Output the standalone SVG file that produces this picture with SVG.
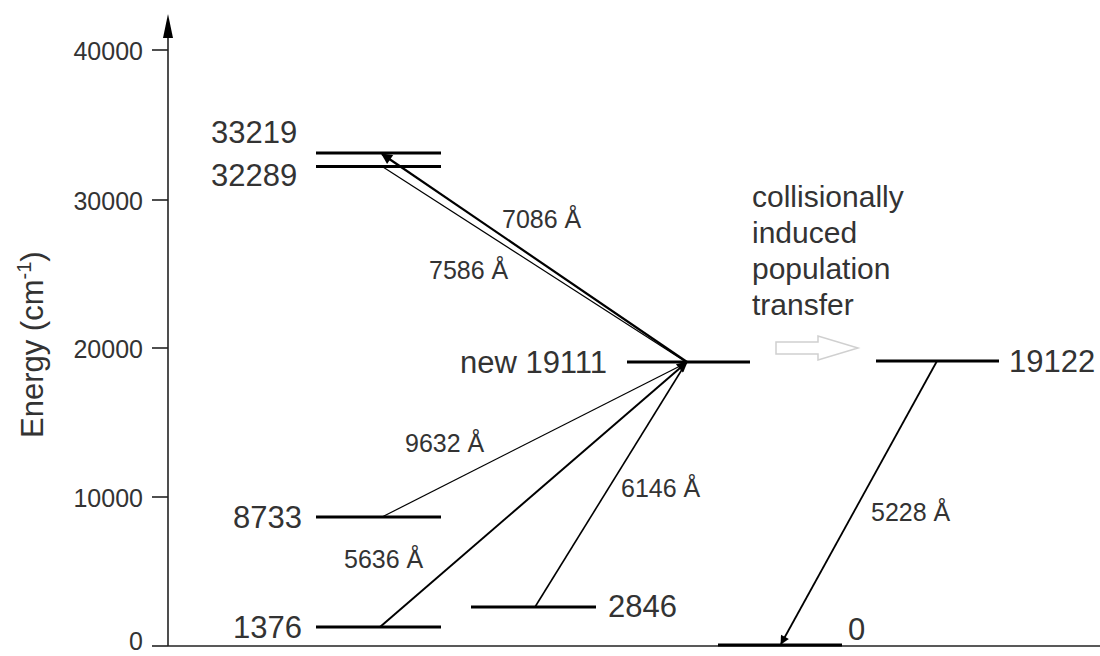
<svg xmlns="http://www.w3.org/2000/svg" width="1100" height="656" viewBox="0 0 1100 656">
<defs>
<style>
text{font-family:"Liberation Sans",Arial,sans-serif;fill:#333}
.tick{font-size:25px;text-anchor:end}
.lvl{font-size:31px}
.wl{font-size:25px}
.note{font-size:30px}
.level{stroke:#000;stroke-width:3.2}
.ax{stroke:#222;stroke-width:1.6;fill:none}
.tr{stroke:#000;fill:none}
</style>
<marker id="ah" viewBox="0 0 10 10" refX="9" refY="5" markerWidth="7" markerHeight="5" markerUnits="strokeWidth" orient="auto">
<path d="M0,0 L10,5 L0,10 z" fill="#000"/>
</marker>
<marker id="ah2" viewBox="0 0 10 10" refX="9" refY="5" markerWidth="8.5" markerHeight="5.5" markerUnits="strokeWidth" orient="auto">
<path d="M0,0 L10,5 L0,10 z" fill="#000"/>
</marker>
</defs>
<rect width="1100" height="656" fill="#fff"/>
<g id="axis">
<line class="ax" x1="168" y1="646" x2="168" y2="36"/>
<path d="M168,14 L163,38 L173,38 z" fill="#000"/>
<line class="ax" x1="168" y1="646" x2="1100" y2="646"/>
<line class="ax" x1="152" y1="50" x2="168" y2="50"/>
<line class="ax" x1="152" y1="200" x2="168" y2="200"/>
<line class="ax" x1="152" y1="348" x2="168" y2="348"/>
<line class="ax" x1="152" y1="497" x2="168" y2="497"/>
<line class="ax" x1="152" y1="646" x2="168" y2="646"/>
<text class="tick" x="143" y="60">40000</text>
<text class="tick" x="143" y="210">30000</text>
<text class="tick" x="143" y="358">20000</text>
<text class="tick" x="143" y="507">10000</text>
<text class="tick" x="143" y="650">0</text>
<text font-size="31" transform="translate(43,438) rotate(-90)">Energy (cm<tspan font-size="20" dy="-12">-1</tspan><tspan dy="12">)</tspan></text>
</g>
<g id="level-33219">
<line class="level" x1="316" y1="153" x2="441" y2="153"/>
<text class="lvl" x="211" y="143">33219</text>
</g>
<g id="level-32289">
<line class="level" x1="316" y1="166.5" x2="441" y2="166.5"/>
<text class="lvl" x="211" y="186">32289</text>
</g>
<g id="level-19111">
<line class="level" x1="627" y1="362" x2="750" y2="362"/>
<text class="lvl" x="607" y="373" text-anchor="end">new 19111</text>
</g>
<g id="level-8733">
<line class="level" x1="316" y1="517" x2="441" y2="517"/>
<text class="lvl" x="302" y="528" text-anchor="end">8733</text>
</g>
<g id="level-1376">
<line class="level" x1="316" y1="627" x2="441" y2="627"/>
<text class="lvl" x="302" y="638" text-anchor="end">1376</text>
</g>
<g id="level-2846">
<line class="level" x1="471" y1="607" x2="596" y2="607"/>
<text class="lvl" x="608" y="617">2846</text>
</g>
<g id="level-19122">
<line class="level" x1="876" y1="361" x2="999" y2="361"/>
<text class="lvl" x="1009" y="372">19122</text>
</g>
<g id="level-0">
<line class="level" x1="718" y1="645" x2="842" y2="645"/>
<text class="lvl" x="848" y="640">0</text>
</g>
<g id="transfer">
<path d="M776,342 L818,342 L818,336 L858,348 L818,360 L818,354 L776,354 z" fill="none" stroke="#d0d0d0" stroke-width="1.5"/>
<text class="note" x="752" y="207">collisionally</text>
<text class="note" x="752" y="243">induced</text>
<text class="note" x="752" y="279">population</text>
<text class="note" x="752" y="315">transfer</text>
</g>
<g id="connectors">
<line class="tr" stroke-width="2.2" x1="687" y1="362" x2="382" y2="154" marker-end="url(#ah)"/>
<line class="tr" stroke-width="1.2" x1="383" y1="167" x2="686" y2="362"/>
<line class="tr" stroke-width="1.2" x1="382" y1="517" x2="686" y2="363"/>
<line class="tr" stroke-width="2" x1="380" y1="627" x2="687" y2="362" marker-end="url(#ah2)"/>
<line class="tr" stroke-width="1.6" x1="535" y1="607" x2="686" y2="363"/>
<line class="tr" stroke-width="1.8" x1="937" y1="361" x2="781" y2="644" marker-end="url(#ah)"/>
<text class="wl" x="502" y="228">7086 Å</text>
<text class="wl" x="429" y="279">7586 Å</text>
<text class="wl" x="405" y="452">9632 Å</text>
<text class="wl" x="344" y="568">5636 Å</text>
<text class="wl" x="621" y="497">6146 Å</text>
<text class="wl" x="871" y="521">5228 Å</text>
</g>
</svg>
